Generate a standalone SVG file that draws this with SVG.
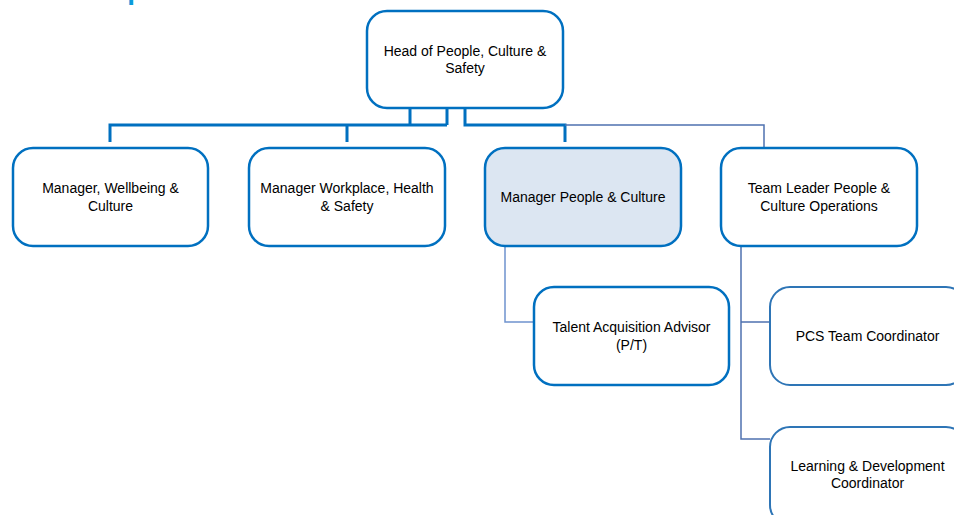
<svg xmlns="http://www.w3.org/2000/svg" width="954" height="515" viewBox="0 0 954 515">
  <style>
    .box { fill: #ffffff; stroke: #0070C0; stroke-width: 2.5; }
    .box.hl { fill: #DCE6F2; }
    .box.sub { stroke: #2E75B6; stroke-width: 2; }
    .lbl { font-family: "Liberation Sans", Arial, sans-serif; font-size: 14px; fill: #000000; text-anchor: middle; }
    .thick { fill: none; stroke: #0070C0; stroke-width: 3; }
    .thin { fill: none; stroke: #4F72B0; stroke-width: 1.5; }
    .light { fill: none; stroke: #6F93CE; stroke-width: 1.5; }
    .title { font-family: "Liberation Sans", Arial, sans-serif; font-weight: bold; font-size: 28px; fill: #0B9BDB; text-anchor: end; }
  </style>

  <!-- heading, running off the top edge -->
  <text class="title" x="160" y="-1">Relationships</text>

  <!-- connectors -->
  <g id="connectors">
    <path class="thick" d="M410 108 V125 M447 108 V125 M110 142 V125 H447 M347 125 V142"/>
    <path class="thick" d="M465 108 V125 H565 V142"/>
    <path class="thin" d="M565 125 H764 V148"/>
    <path class="light" d="M505 246 V322 H534"/>
    <path class="thin" d="M741 246 V439 H770 M741 322 H770"/>
  </g>

  <g id="head">
    <rect class="box" x="367" y="11" width="196" height="97" rx="20"/>
    <text class="lbl" x="465" y="56">Head of People, Culture &amp;</text>
    <text class="lbl" x="465" y="73">Safety</text>
  </g>

  <g id="mgr-wellbeing">
    <rect class="box" x="13" y="148" width="195" height="98" rx="20"/>
    <text class="lbl" x="110.5" y="193">Manager, Wellbeing &amp;</text>
    <text class="lbl" x="110.5" y="210.5">Culture</text>
  </g>

  <g id="mgr-whs">
    <rect class="box" x="249" y="148" width="196" height="98" rx="20"/>
    <text class="lbl" x="347" y="193">Manager Workplace, Health</text>
    <text class="lbl" x="347" y="210.5">&amp; Safety</text>
  </g>

  <g id="mgr-pc">
    <rect class="box hl" x="485" y="148" width="196" height="98" rx="20"/>
    <text class="lbl" x="583" y="202">Manager People &amp; Culture</text>
  </g>

  <g id="tl-pco">
    <rect class="box" x="721" y="148" width="196" height="98" rx="20"/>
    <text class="lbl" x="819" y="193">Team Leader People &amp;</text>
    <text class="lbl" x="819" y="210.5">Culture Operations</text>
  </g>

  <g id="talent">
    <rect class="box" x="534" y="287" width="195" height="98" rx="20"/>
    <text class="lbl" x="631.5" y="332">Talent Acquisition Advisor</text>
    <text class="lbl" x="631.5" y="349.5">(P/T)</text>
  </g>

  <g id="pcs-coord">
    <rect class="box sub" x="770" y="287" width="196" height="98" rx="20"/>
    <text class="lbl" x="867.5" y="340.5">PCS Team Coordinator</text>
  </g>

  <g id="ld-coord">
    <rect class="box sub" x="770" y="427" width="196" height="98" rx="20"/>
    <text class="lbl" x="867.5" y="471">Learning &amp; Development</text>
    <text class="lbl" x="867.5" y="487.5">Coordinator</text>
  </g>
</svg>
